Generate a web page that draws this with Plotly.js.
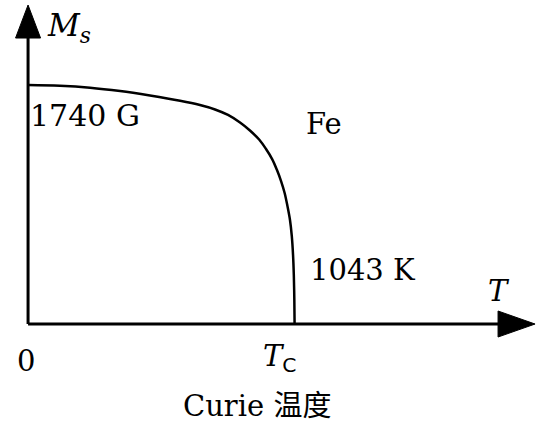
<!DOCTYPE html>
<html>
<head>
<meta charset="utf-8">
<script src="https://cdn.plot.ly/plotly-3.0.1.min.js"></script>
<style>html,body{margin:0;padding:0;background:#fff;}#chart{width:543px;height:428px;}</style>
</head>
<body>
<div id="chart"></div>
<script>
// Temperature (K) and saturation magnetization (G) of Fe
const temperatureK = [0, 125, 243, 361, 478, 596, 674, 733, 784, 831, 870, 906, 933, 957, 976, 992, 1006, 1017, 1027, 1034, 1039, 1042, 1044, 1045];
const magnetizationG = [1740, 1735, 1721, 1696, 1663, 1625, 1594, 1562, 1522, 1467, 1409, 1343, 1274, 1201, 1121, 1041, 954, 859, 757, 641, 502, 357, 175, 0];
const curieT = 1043;
const ms0 = 1740;
const labels = {ms: "<i>M</i><sub><i>s</i></sub>", t: "<i>T</i>", zero: "0", tc: "<i>T</i><sub><span style=\"font-family:'DejaVu Sans'\">C</span></sub>",
  curie: "Curie 温度", fe: "Fe", msVal: "1740 G", tcVal: "1043 K"};

const xr = [-110, 2019], yr = [-757, 2359];
const W = 543, H = 428;
const kx = (xr[1]-xr[0])/W, ky = (yr[1]-yr[0])/H; // data units per pixel

const font = {family: "'DejaVu Serif', 'Noto Sans CJK SC', serif", size: 29, color: "#000"};

const xTip = 507*kx, xBase = 470*kx, xHalf = 13*ky;
const yTip = 319*ky, yBase = 286*ky, yHalf = 12.5*kx;

const shapes = [
  {type: 'line', x0: 0, y0: 0, x1: xBase+2*kx, y1: 0, line: {color: '#000', width: 3}},
  {type: 'line', x0: 0, y0: 0, x1: 0, y1: yBase+2*ky, line: {color: '#000', width: 3}},
  {type: 'path', path: `M ${xBase} ${-xHalf} L ${xTip} 0 L ${xBase} ${xHalf} Z`, fillcolor: '#000', line: {color: '#000', width: 1}},
  {type: 'path', path: `M ${-yHalf} ${yBase} L 0 ${yTip} L ${yHalf} ${yBase} Z`, fillcolor: '#000', line: {color: '#000', width: 1}}
];

function ann(text, x, y, xa, ya, size) {
  return {text, x, y, xref: 'x', yref: 'y', xanchor: xa, yanchor: ya, showarrow: false,
    font: Object.assign({}, font, size ? {size} : {})};
}
const annotations = [
  ann(labels.ms, 17*kx, 2160, 'left', 'middle', 31),
  ann(labels.msVal, 0, 1515, 'left', 'middle', 30),
  ann(labels.fe, 1082, 1455, 'left', 'middle'),
  ann(labels.tcVal, 1098, 390, 'left', 'middle'),
  ann(labels.t, 1795, 240, 'left', 'middle'),
  ann(labels.zero, -10, -270, 'center', 'middle'),
  ann(labels.tc, curieT-55, -250, 'center', 'middle'),
  ann(labels.curie, 229*kx, -600, 'center', 'middle')
];

const trace = {x: temperatureK, y: magnetizationG, mode: 'lines', type: 'scatter',
  line: {color: '#000', width: 2.5, shape: 'spline', smoothing: 1}, hoverinfo: 'skip'};

const layout = {
  width: W, height: H, margin: {l: 0, r: 0, t: 0, b: 0},
  paper_bgcolor: '#fff', plot_bgcolor: '#fff', showlegend: false,
  xaxis: {range: xr, visible: false, fixedrange: true},
  yaxis: {range: yr, visible: false, fixedrange: true},
  shapes, annotations, font
};
Plotly.newPlot('chart', [trace], layout, {staticPlot: true, displayModeBar: false});
</script>
</body>
</html>
